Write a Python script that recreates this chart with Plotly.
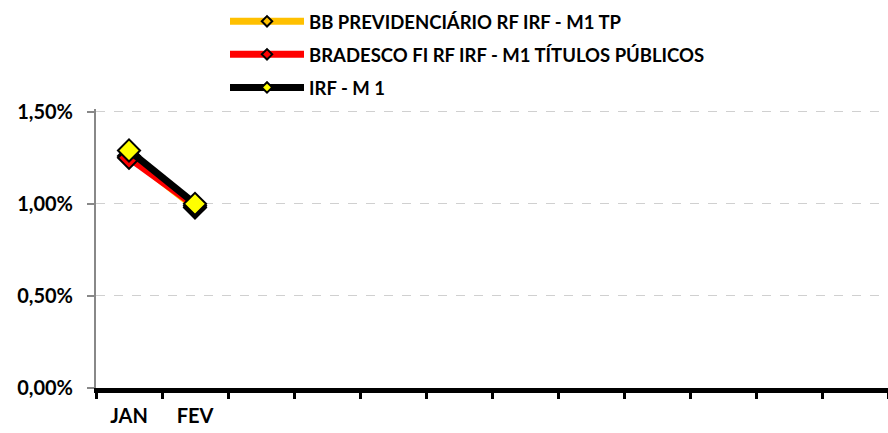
import plotly.graph_objects as go

months = ["JAN", "FEV", "MAR", "ABR", "MAI", "JUN", "JUL", "AGO", "SET", "OUT", "NOV", "DEZ"]
bb_values = [1.26, 0.98]
bradesco_values = [1.25, 0.99]
irfm1_values = [1.29, 1.00]
y_ticks = [0.0, 0.5, 1.0, 1.5]

names = ["BB PREVIDENCIÁRIO RF IRF - M1 TP",
         "BRADESCO FI RF IRF - M1 TÍTULOS PÚBLICOS",
         "IRF - M 1"]
line_colors = ["#FFC000", "#FF0000", "#000000"]
marker_fills = ["#FFC000", "#FF0000", "#FFFF00"]
series = [bb_values, bradesco_values, irfm1_values]

FONT = "Lato"
fig = go.Figure()

for i, vals in enumerate(series):
    fig.add_trace(go.Scatter(
        x=months[:len(vals)], y=vals, mode="lines+markers",
        line=dict(color=line_colors[i], width=7),
        marker=dict(symbol="diamond", size=17, color=marker_fills[i],
                    line=dict(color="black", width=2)),
        showlegend=False, hoverinfo="skip"))

# legend-only entries
for i in range(3):
    fig.add_trace(go.Scatter(
        x=[None], y=[None], mode="lines+markers", name=names[i],
        legendgroup=f"g{i}",
        line=dict(color=line_colors[i], width=7),
        marker=dict(symbol="diamond", size=8, color=marker_fills[i],
                    line=dict(color="black", width=2))))

tick_text = [m if j < 2 else "" for j, m in enumerate(months)]
y_text = [f"{v:.2f}%".replace(".", ",") for v in y_ticks]

fig.update_layout(
    width=888, height=433,
    margin=dict(l=96, r=0, t=109, b=45),
    paper_bgcolor="white", plot_bgcolor="white",
    font=dict(family=FONT, size=18, color="black"),
    showlegend=True,
    legend=dict(x=(225 - 96) / 792, y=1.008, xanchor="left", yanchor="bottom",
                yref="paper", itemwidth=74, tracegroupgap=6,
                font=dict(family=FONT, size=18.5, color="black", weight="bold"),
                bgcolor="rgba(0,0,0,0)"),
    xaxis=dict(type="category", categoryorder="array", categoryarray=months,
               range=[-0.5, 11.5], tickmode="array", tickvals=months, ticktext=tick_text,
               tickson="boundaries", ticks="outside", ticklen=6, tickwidth=3, tickcolor="black",
               showline=True, linecolor="black", linewidth=5, showgrid=False,
               ticklabelstandoff=6,
               tickfont=dict(family=FONT, size=20, color="black", weight="bold")),
    yaxis=dict(range=[0, 1.515], tickmode="array", tickvals=y_ticks, ticktext=y_text,
               ticks="outside", ticklen=7, tickwidth=2, tickcolor="#888888",
               showline=True, linecolor="#888888", linewidth=2,
               showgrid=True, gridcolor="#D0D0D0", griddash="dash", gridwidth=1,
               zeroline=False, ticklabelstandoff=10,
               tickfont=dict(family=FONT, size=20, color="black", weight="bold")),
)

fig.write_html("out.html", config={"displayModeBar": False},
               post_script="document.body.style.margin='0';")
